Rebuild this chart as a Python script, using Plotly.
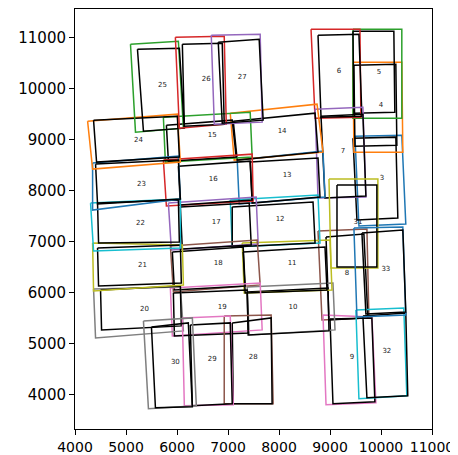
import plotly.graph_objects as go

# box number, ground truth outline (colour) and detected outline (black), corners TL, TR, BR, BL
box_ids = [3, 4, 5, 6, 7, 8, 9, 10, 11, 12, 13, 14, 15, 16, 17, 18,
           19, 20, 21, 22, 23, 24, 25, 26, 27, 28, 29, 30, 31, 32, 33]

gt_x = [
    [9489, 10408, 10486, 9567], [9450, 10408, 10428, 9469], [9450, 10408, 10408, 9450],
    [8628, 9587, 9606, 8707], [8707, 9645, 9704, 8765], [8765, 9724, 9763, 8843],
    [8863, 9821, 9900, 8922], [7376, 9058, 9098, 7416], [7279, 9000, 9039, 7318],
    [7044, 8765, 8804, 7083], [7181, 8863, 8902, 7220], [7044, 8746, 8863, 7122],
    [5733, 7435, 7474, 5772], [5733, 7474, 7494, 5792], [5831, 7552, 7592, 5890],
    [5870, 7572, 7631, 5929], [5870, 7631, 7670, 5909], [4364, 6066, 6125, 4403],
    [4345, 6105, 6125, 4364], [4305, 6066, 6066, 4364], [4345, 6027, 6066, 4345],
    [4247, 6007, 6066, 4345], [5088, 6027, 6125, 5186], [5968, 6926, 6966, 6046],
    [6672, 7631, 7670, 6731], [6926, 7846, 7885, 6926], [6105, 7044, 7103, 6144],
    [5342, 6301, 6379, 5440], [8980, 9939, 9939, 9019], [9508, 10447, 10506, 9567],
    [9469, 10428, 10486, 9528],
]
gt_y = [
    [9068, 9088, 7346, 7307], [10517, 10517, 8755, 8755], [11162, 11162, 9421, 9421],
    [11162, 11162, 9440, 9421], [9597, 9636, 7875, 7855], [7209, 7248, 5507, 5468],
    [5565, 5526, 3843, 3804], [6114, 6192, 5272, 5174], [6975, 7033, 6055, 5996],
    [7816, 7914, 6975, 6896], [8599, 8775, 7875, 7738], [9519, 9695, 8755, 8599],
    [9440, 9538, 8658, 8560], [8599, 8716, 7797, 7699], [7757, 7875, 6955, 6838],
    [6916, 7033, 6153, 6016], [6094, 6192, 5272, 5154], [6074, 6114, 5252, 5115],
    [6975, 6935, 6153, 6035], [7757, 7836, 6877, 6818], [8540, 8677, 7836, 7620],
    [9362, 9499, 8560, 8423], [10869, 10928, 9225, 9147], [11006, 11025, 9303, 9225],
    [11045, 11065, 9343, 9303], [5546, 5565, 3824, 3824], [5507, 5546, 3804, 3785],
    [5448, 5507, 3785, 3726], [8227, 8227, 6485, 6485], [5663, 5702, 3980, 3922],
    [7268, 7288, 5565, 5526],
]

det_x = [
    [9450, 10291, 10330, 9528], [9469, 10291, 10311, 9489], [9450, 10252, 10271, 9469],
    [8765, 9567, 9626, 8824], [8824, 9645, 9704, 8902], [8922, 9665, 9743, 8980],
    [9000, 9821, 9880, 9058], [7376, 8961, 8980, 7396], [7298, 8902, 8941, 7337],
    [7083, 8667, 8707, 7083], [7435, 8765, 8804, 7474], [7103, 8707, 8765, 7181],
    [5792, 7083, 7161, 5831], [6027, 7435, 7474, 6066], [6066, 7416, 7455, 6105],
    [5909, 7298, 7337, 5949], [5929, 7376, 7396, 5949], [4501, 6066, 6085, 4521],
    [4442, 6066, 6085, 4462], [4442, 6027, 6046, 4462], [4403, 6027, 6066, 4442],
    [4364, 6007, 6046, 4423], [5225, 6046, 6144, 5342], [6105, 6887, 6926, 6144],
    [6809, 7611, 7689, 6887], [7083, 7846, 7865, 7103], [6261, 7044, 7083, 6301],
    [5499, 6222, 6301, 5577], [9137, 9919, 9919, 9137], [9645, 10486, 10525, 9724],
    [9626, 10428, 10486, 9704],
]
det_y = [
    [9029, 9049, 7464, 7425], [10458, 10478, 8892, 8873], [11123, 11123, 9538, 9519],
    [11045, 11065, 9460, 9440], [9460, 9499, 7895, 7855], [7092, 7150, 5507, 5468],
    [5487, 5507, 3863, 3824], [6016, 6094, 5252, 5174], [6799, 6896, 6055, 5996],
    [7679, 7777, 6975, 6896], [8560, 8638, 7875, 7757], [9362, 9519, 8755, 8599],
    [9284, 9382, 8658, 8579], [8481, 8579, 7816, 7718], [7679, 7757, 6935, 6857],
    [6799, 6896, 6133, 6055], [5996, 6055, 5213, 5154], [6055, 6133, 5350, 5272],
    [6877, 6935, 6192, 6133], [7757, 7816, 6994, 6975], [8521, 8599, 7836, 7738],
    [9382, 9460, 8658, 8560], [10771, 10791, 9225, 9166], [10869, 10889, 9303, 9264],
    [10908, 10967, 9382, 9323], [5409, 5507, 3824, 3824], [5370, 5409, 3824, 3785],
    [5331, 5409, 3765, 3746], [8110, 8110, 6505, 6505], [5546, 5604, 3980, 3941],
    [7170, 7229, 5624, 5585],
]

label_x = [10017, 9998, 9958, 9176, 9254, 9333, 9430, 8276, 8257, 8022, 8159, 8061,
           6692, 6711, 6770, 6809, 6887, 5362, 5322, 5283, 5303, 5244, 5714, 6574,
           7279, 7494, 6692, 5968, 9548, 10115, 10095]
label_y = [8247, 9675, 10321, 10340, 8775, 6387, 4744, 5722, 6583, 7444, 8305, 9166,
           9088, 8227, 7386, 6583, 5722, 5683, 6544, 7366, 8129, 8990, 10066, 10184,
           10223, 4744, 4705, 4646, 7386, 4861, 6466]

x_ticks = [4000, 5000, 6000, 7000, 8000, 9000, 10000, 11000]
y_ticks = [4000, 5000, 6000, 7000, 8000, 9000, 10000, 11000]

tab10 = ['#1f77b4', '#ff7f0e', '#2ca02c', '#d62728', '#9467bd',
         '#8c564b', '#e377c2', '#7f7f7f', '#bcbd22', '#17becf']

fig = go.Figure()

for i, n in enumerate(box_ids):
    color = tab10[i % 10]
    fig.add_trace(go.Scatter(x=gt_x[i] + gt_x[i][:1], y=gt_y[i] + gt_y[i][:1],
                             mode='lines', line=dict(color=color, width=1.5),
                             hoverinfo='skip', showlegend=False))
    fig.add_trace(go.Scatter(x=det_x[i] + det_x[i][:1], y=det_y[i] + det_y[i][:1],
                             mode='lines', line=dict(color='black', width=1.5),
                             hoverinfo='skip', showlegend=False))

fig.add_trace(go.Scatter(x=label_x, y=label_y, mode='text',
                         text=[str(n) for n in box_ids],
                         textfont=dict(size=7, color='#222', family='DejaVu Sans'),
                         hoverinfo='skip', showlegend=False))

axis_style = dict(showgrid=False, zeroline=False, showline=True, linecolor='black',
                  linewidth=1, mirror=True, ticks='outside', ticklen=5, tickwidth=1,
                  tickcolor='black', automargin=False)

fig.update_xaxes(range=[4000, 11000], tickvals=x_ticks, ticktext=[str(v) for v in x_ticks],
                 tickangle=0, tickfont=dict(size=14, color='black', family='DejaVu Sans'),
                 **axis_style)
fig.update_yaxes(range=[3330, 11560], tickvals=y_ticks, ticktext=[str(v) for v in y_ticks],
                 tickfont=dict(size=15, color='black', family='DejaVu Sans'),
                 **axis_style)

# the page adds an 8px body margin, so the figure is made 8px smaller on each side
fig.update_layout(width=450, height=447, margin=dict(l=67, r=26, t=1, b=26),
                  plot_bgcolor='white', paper_bgcolor='white')

fig.write_html("out.html")
